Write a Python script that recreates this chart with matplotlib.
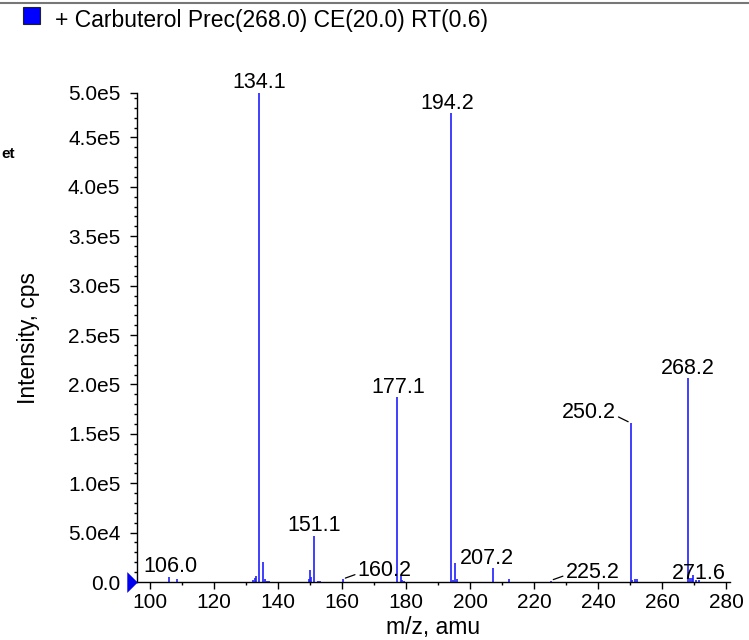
import matplotlib
matplotlib.use("Agg")
import matplotlib.pyplot as plt
from matplotlib.patches import Rectangle
from matplotlib.lines import Line2D
from matplotlib.path import Path
from matplotlib.ticker import MultipleLocator
import matplotlib.transforms as mtransforms

plt.rcParams['font.family'] = ['Liberation Sans', 'DejaVu Sans']

# ---- data ----
mz = [106.0, 108.3, 132.3, 132.8, 133.2, 134.1, 135.3, 135.8, 136.4, 137.2,
      149.6, 150.0, 150.3, 151.1, 152.6, 153.0, 160.2, 177.1, 178.3, 178.8,
      179.3, 194.2, 194.7, 195.4, 195.9, 207.2, 212.2, 225.2, 250.2, 250.6,
      251.6, 252.1, 268.2, 268.7, 269.3, 269.8, 270.5, 271.6]
intensity = [5e3, 3e3, 2e3, 4e3, 6e3, 4.95e5, 2.0e4, 3e3, 1.5e3, 1e3,
             3e3, 1.2e4, 5e3, 4.7e4, 1.5e3, 1.5e3, 3e3, 1.87e5, 6e3, 2.5e3,
             1.5e3, 4.75e5, 2e3, 1.9e4, 3e3, 1.4e4, 3e3, 1.5e3, 1.61e5, 2e3,
             3e3, 3e3, 2.07e5, 4e3, 4e3, 7e3, 2e3, 2e3]

label_mz = [106.0, 134.1, 151.1, 160.2, 177.1, 194.2, 207.2, 225.2, 250.2, 268.2, 271.6]
label_text = ["106.0", "134.1", "151.1", "160.2", "177.1", "194.2", "207.2", "225.2", "250.2", "268.2", "271.6"]

ytick_vals = [0, 0.5e5, 1.0e5, 1.5e5, 2.0e5, 2.5e5, 3.0e5, 3.5e5, 4.0e5, 4.5e5, 4.95e5]
ytick_labels = ["0.0", "5.0e4", "1.0e5", "1.5e5", "2.0e5", "2.5e5", "3.0e5", "3.5e5", "4.0e5", "4.5e5", "5.0e5"]
xtick_vals = [100, 120, 140, 160, 180, 200, 220, 240, 260, 280]

title = "+ Carbuterol Prec(268.0) CE(20.0) RT(0.6)"

# ---- styling (offsets in pixels) ----
label_style = {
    "106.0": dict(off=(1, 5), ha="center"),
    "134.1": dict(off=(0, 5), ha="center"),
    "151.1": dict(off=(1, 5), ha="center"),
    "160.2": dict(off=(15, 3), ha="left", leader=(0, 0.35)),
    "177.1": dict(off=(1, 4), ha="center"),
    "194.2": dict(off=(-4, 4), ha="center"),
    "207.2": dict(off=(-6, 4), ha="center"),
    "225.2": dict(off=(15, 3), ha="left", leader=(0, 0.35)),
    "250.2": dict(off=(-15, 5), ha="right", leader=(1, 0.35)),
    "268.2": dict(off=(0, 4), ha="center"),
    "271.6": dict(off=(0, 1), ha="center"),
}

W, H = 749, 640
fig = plt.figure(figsize=(W / 100, H / 100), dpi=100)
ax = fig.add_axes([137 / W, 58 / H, (730 - 137) / W, (582 - 93) / H])

blue = "#1f1fff"
ax.vlines(mz, 0, intensity, color=blue, lw=1.2)

ax.set_xlim(95.9, 281.25)
ax.set_ylim(0, 4.95e5)

peak_lookup = dict(zip(mz, intensity))
for m, t in zip(label_mz, label_text):
    st = label_style[t]
    kw = {}
    if "leader" in st:
        kw["arrowprops"] = dict(arrowstyle="-", lw=0.9, color="black",
                                shrinkA=0, shrinkB=2, relpos=st["leader"])
    ax.annotate(t, xy=(m, peak_lookup[m]), xytext=st["off"],
                textcoords="offset pixels", ha=st["ha"], va="baseline",
                fontsize=15.5, color="black", annotation_clip=False, **kw)

for s in ["top", "right"]:
    ax.spines[s].set_visible(False)
for s in ["left", "bottom"]:
    ax.spines[s].set_linewidth(1.0)

ax.set_xticks(xtick_vals)
ax.xaxis.set_minor_locator(MultipleLocator(10))
ax.set_yticks(ytick_vals)
ax.set_yticklabels(ytick_labels)
ax.yaxis.set_minor_locator(MultipleLocator(1e4))
ax.tick_params(axis="both", which="major", length=5, width=1, labelsize=15)
ax.tick_params(axis="both", which="minor", length=2.5, width=1)
ax.tick_params(axis="y", which="major", pad=7)
ax.tick_params(axis="x", which="major", pad=3)

ax.set_xlabel("m/z, amu", fontsize=16.5, labelpad=3)
ax.set_ylabel("Intensity, cps", fontsize=16.5, labelpad=20)

# blue triangle marker at zero on left axis
tri = Path([(-0.5, -1.0), (-0.5, 1.0), (0.5, 0.0), (-0.5, -1.0)],
           [Path.MOVETO, Path.LINETO, Path.LINETO, Path.CLOSEPOLY])
trans = mtransforms.blended_transform_factory(ax.transAxes, ax.transData)
ax.plot([-0.0076], [0], marker=tri, markersize=15, color="#0000ee",
        markeredgewidth=0, transform=trans, clip_on=False, zorder=5)

# legend square and title
fig.add_artist(Rectangle((23 / W, 1 - 24 / H), 17 / W, 17 / H, transform=fig.transFigure,
                         facecolor="#0000ff", edgecolor="#222222", lw=0.8))
fig.text(55 / W, 1 - 21 / H, title, fontsize=16.5, va="center", ha="left")

# top gray line
fig.add_artist(Line2D([0, 1], [1 - 3 / H, 1 - 3 / H], transform=fig.transFigure,
                      color="#777777", lw=1.5))

# small fragment at left edge
fig.text(1 / W, 1 - 154 / H, "et", fontsize=11, ha="left", va="center", fontweight="bold")

fig.savefig("out.png", dpi=100)
